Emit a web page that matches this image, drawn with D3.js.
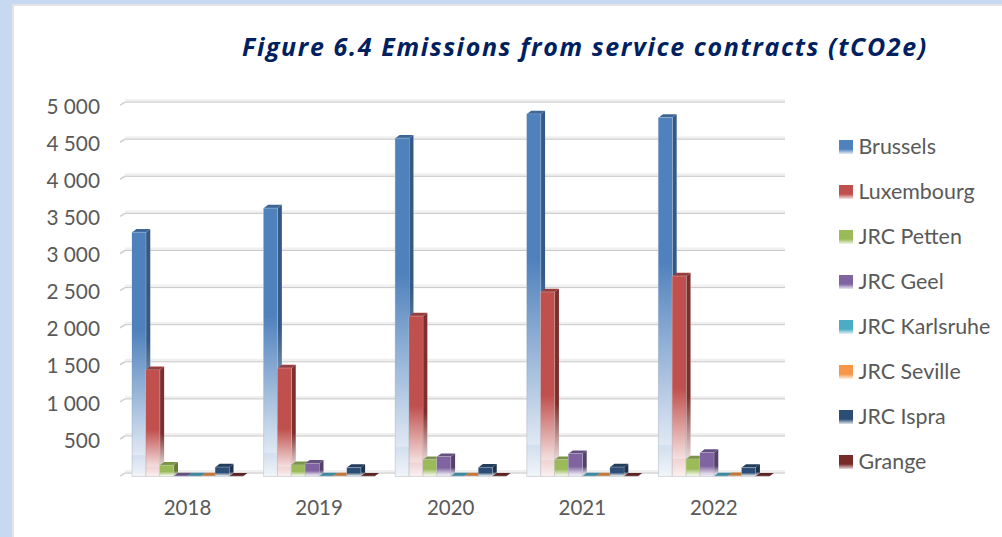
<!DOCTYPE html>
<html>
<head>
<meta charset="utf-8">
<script src="https://cdn.jsdelivr.net/npm/d3@7"></script>
<style>
	html, body { margin: 0; padding: 0; background: #c6d9f1; overflow: hidden; }
	text { font-family: Lato, "Open Sans", sans-serif; fill: #595959; }
</style>
</head>
<body>
<div id="graphs"></div>
<script>
var years  = ["2018", "2019", "2020", "2021", "2022"];
var series = ["Brussels", "Luxembourg", "JRC Petten", "JRC Geel", "JRC Karlsruhe", "JRC Seville", "JRC Ispra", "Grange"];
var brussels   = [3290, 3615, 4558, 4885, 4835];
var luxembourg = [1435, 1460, 2160, 2485, 2700];
var petten     = [150, 155, 225, 225, 235];
var geel       = [5, 175, 265, 305, 320];
var karlsruhe  = [4, 4, 5, 5, 5];
var seville    = [6, 6, 6, 6, 8];
var ispra      = [125, 120, 122, 125, 120];
var grange     = [3, 3, 3, 3, 3];
var allValues  = [brussels, luxembourg, petten, geel, karlsruhe, seville, ispra, grange];
var yTicks     = [0, 500, 1000, 1500, 2000, 2500, 3000, 3500, 4000, 4500, 5000];
var colors     = ["#4f81bd", "#c0504d", "#9bbb59", "#8064a2", "#4bacc6", "#f79646", "#2c4d75", "#772c2a"];
var sideColors = ["#335a86", "#7e2f2d", "#667c3a", "#54426b", "#317183", "#a36230", "#1c324d", "#4e1d1c"];
var topColors  = ["#3e6797", "#983f3d", "#7b9547", "#665082", "#3c89a0", "#c57738", "#233d5d", "#5f2322"];

var depth = {x: 4.4, y: 3.4};

function initGraph() {
	var svg = d3.select("#graphs").append("svg")
		.attr("width", 1002)
		.attr("height", 537)
		.style("display", "block");
	svg.append("rect").attr("x", 12).attr("y", 4).attr("width", 990).attr("height", 533).attr("fill", "#e3e3e3");
	svg.append("rect").attr("x", 14).attr("y", 6).attr("width", 988).attr("height", 531).attr("fill", "#ffffff");
	return svg;
}

function addFade(defs, id, c, start) {
	var g = defs.append("linearGradient")
		.attr("id", id)
		.attr("x1", 0).attr("y1", 0).attr("x2", 0).attr("y2", 1);
	g.append("stop").attr("offset", 0).attr("stop-color", c);
	g.append("stop").attr("offset", start).attr("stop-color", c);
	g.append("stop").attr("offset", 0.91).attr("stop-color", c).attr("stop-opacity", 0.18);
	g.append("stop").attr("offset", 0.915).attr("stop-color", c).attr("stop-opacity", 0.25);
	g.append("stop").attr("offset", 1).attr("stop-color", c).attr("stop-opacity", 0.08);
}

function addGradients(svg) {
	var defs = svg.append("defs");
	colors.forEach(function(c, i) {
		var start = i == 0 ? 0.4 : 0.56;
		addFade(defs, "fade" + i, c, start);
		addFade(defs, "side" + i, sideColors[i], start + 0.05);
		var l = defs.append("linearGradient")
			.attr("id", "key" + i)
			.attr("x1", 0).attr("y1", 0).attr("x2", 0).attr("y2", 1);
		l.append("stop").attr("offset", 0).attr("stop-color", c);
		l.append("stop").attr("offset", 0.65).attr("stop-color", c);
		l.append("stop").attr("offset", 1).attr("stop-color", c).attr("stop-opacity", 0.15);
	});
}

function drawGrid(svg, yScale, xLeft, xRight) {
	var grid = svg.append("g").attr("class", "grid");
	yTicks.forEach(function(t) {
		var y = yScale(t) - depth.y;
		grid.append("line").attr("x1", xLeft).attr("x2", xRight)
			.attr("y1", y - 1.5).attr("y2", y - 1.5)
			.attr("stroke", "#f0f0f0").attr("stroke-width", 3);
		grid.append("line").attr("x1", xLeft).attr("x2", xRight)
			.attr("y1", y).attr("y2", y)
			.attr("stroke", "#c8c8c8").attr("stroke-width", 1);
		grid.append("path")
			.attr("d", "M" + (xLeft - 5) + "," + (y + 3) + "L" + xLeft + "," + y)
			.attr("stroke", "#d0d0d0").attr("stroke-width", 1.6).attr("fill", "none");
	});
}

function drawBars(svg, years, xScale, xInner, yScale) {
	years.forEach(function(year, yi) {
		var g = svg.append("g").attr("transform", "translate(" + xScale(year) + ",0)");
		// later series sit on top of the side of the one before
		series.forEach(function(name, si) {
			var v = allValues[si][yi];
			var x = xInner(name);
			var w = xInner.bandwidth();
			var y0 = yScale(0);
			var y1 = yScale(v);
			var sideD = "M" + (x + w) + "," + y1 + "l" + depth.x + "," + (-depth.y) + "V" + (y0 - depth.y) + "l" + (-depth.x) + "," + depth.y + "Z";
			g.append("path").attr("d", sideD).attr("fill", "#ffffff");
			g.append("path").attr("d", sideD).attr("fill", "url(#side" + si + ")");
			g.append("path")
				.attr("d", "M" + x + "," + y1 + "l" + depth.x + "," + (-depth.y) + "h" + w + "l" + (-depth.x) + "," + depth.y + "Z")
				.attr("fill", topColors[si]);
			g.append("rect")
				.attr("x", x).attr("y", y1)
				.attr("width", w).attr("height", y0 - y1)
				.attr("fill", "#ffffff")
				.attr("stroke", "#c4c8cf")
				.attr("stroke-opacity", 0.6);
			g.append("rect")
				.attr("x", x).attr("y", y1)
				.attr("width", w).attr("height", y0 - y1)
				.attr("fill", "url(#fade" + si + ")");
		});
	});
}

function addYAxis(svg, yScale) {
	var labels = yTicks.slice(1);
	svg.append("g").selectAll("text")
		.data(labels)
		.enter()
		.append("text")
		.attr("x", 100)
		.attr("y", function(d) { return yScale(d) + 1; })
		.attr("dy", "0.35em")
		.attr("text-anchor", "end")
		.style("font-size", "20.8px")
		.text(function(d) { return d3.format(",")(d).replace(",", " "); });
}

function addXAxis(svg, xScale, xInner) {
	svg.append("g").selectAll("text")
		.data(years)
		.enter()
		.append("text")
		.attr("x", function(d) { return xScale(d) + (xInner.range()[0] + xInner.range()[1]) / 2; })
		.attr("y", 508)
		.attr("dy", "0.35em")
		.attr("text-anchor", "middle")
		.style("font-size", "20.5px")
		.text(function(d) { return d; });
}

function addLegend(svg) {
	var ly = d3.scalePoint().domain(series).range([146, 461]);
	var item = svg.append("g").selectAll("g")
		.data(series)
		.enter()
		.append("g")
		.attr("transform", function(d) { return "translate(839," + ly(d) + ")"; });
	item.append("rect")
		.attr("x", 0).attr("y", -6)
		.attr("width", 14).attr("height", 14)
		.attr("fill", function(d, i) { return "url(#key" + i + ")"; });
	item.append("text")
		.attr("x", 19.5)
		.attr("dy", "0.35em")
		.style("font-size", "21.4px")
		.text(function(d) { return d; });
}

function addTitle(svg) {
	svg.append("text")
		.attr("x", 242)
		.attr("y", 56)
		.style("font-family", '"Open Sans", sans-serif')
		.style("font-size", "25px")
		.style("font-weight", "700")
		.style("font-style", "italic")
		.style("letter-spacing", "1.62px")
		.style("fill", "#002060")
		.text("Figure 6.4 Emissions from service contracts (tCO2e)");
}

function loadGraph() {
	var svg = initGraph();
	addGradients(svg);

	var yScale = d3.scaleLinear().domain([0, 5000]).range([476.5, 105.5]);
	var xScale = d3.scaleBand().domain(years).range([122, 780]);
	var xInner = d3.scaleBand().domain(series).range([10, 121]);

	drawGrid(svg, yScale, 125, 785);
	drawBars(svg, years, xScale, xInner, yScale);
	addYAxis(svg, yScale);
	addXAxis(svg, xScale, xInner);
	addLegend(svg);
	addTitle(svg);
}

loadGraph();
</script>
</body>
</html>
